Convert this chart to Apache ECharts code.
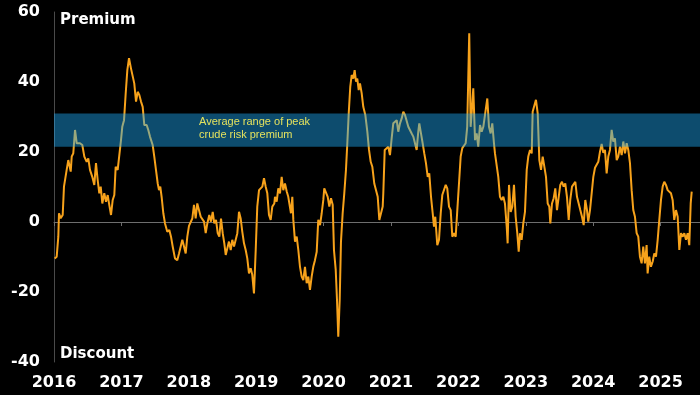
<!DOCTYPE html>
<html>
<head>
<meta charset="utf-8">
<script src="https://cdn.jsdelivr.net/npm/echarts@6/dist/echarts.min.js"></script>
<style>
html,body{margin:0;padding:0;background:#000;}
#chart{width:700px;height:395px;}
</style>
</head>
<body>
<div id="chart"></div>
<script>
// Decimal-year dates of each observation
const dates = [
2016.010,2016.040,2016.064,2016.074,2016.099,2016.129,2016.148,2016.188,2016.212,2016.248,
2016.263,2016.286,2016.312,2016.337,2016.386,2016.420,2016.450,2016.485,2016.509,2016.534,
2016.568,2016.598,2016.623,2016.648,2016.672,2016.693,2016.717,2016.746,2016.772,2016.797,
2016.820,2016.846,2016.871,2016.895,2016.915,2016.945,2016.969,2016.994,2017.013,2017.039,
2017.064,2017.088,2017.113,2017.142,2017.168,2017.191,2017.217,2017.242,2017.266,2017.291,
2017.316,2017.340,2017.375,2017.399,2017.424,2017.464,2017.488,2017.513,2017.539,2017.558,
2017.577,2017.598,2017.622,2017.647,2017.681,2017.711,2017.736,2017.761,2017.795,2017.829,
2017.855,2017.880,2017.904,2017.929,2017.954,2017.978,2018.003,2018.028,2018.052,2018.077,
2018.102,2018.126,2018.151,2018.177,2018.200,2018.226,2018.251,2018.275,2018.304,2018.329,
2018.355,2018.378,2018.404,2018.429,2018.453,2018.478,2018.503,2018.527,2018.548,2018.571,
2018.596,2018.622,2018.645,2018.671,2018.696,2018.720,2018.745,2018.770,2018.794,2018.819,
2018.844,2018.868,2018.893,2018.918,2018.942,2018.967,2018.993,2019.016,2019.042,2019.067,
2019.091,2019.116,2019.141,2019.165,2019.190,2019.215,2019.239,2019.269,2019.279,2019.304,
2019.328,2019.353,2019.378,2019.402,2019.427,2019.453,2019.476,2019.502,2019.516,2019.536,
2019.551,2019.576,2019.601,2019.625,2019.650,2019.675,2019.699,2019.724,2019.749,2019.773,
2019.798,2019.823,2019.847,2019.872,2019.898,2019.921,2019.947,2019.972,2019.996,2020.010,
2020.036,2020.061,2020.085,2020.110,2020.135,2020.154,2020.180,2020.199,2020.218,2020.239,
2020.258,2020.283,2020.307,2020.332,2020.352,2020.373,2020.396,2020.417,2020.441,2020.461,
2020.481,2020.500,2020.521,2020.540,2020.565,2020.589,2020.619,2020.649,2020.674,2020.699,
2020.723,2020.752,2020.778,2020.803,2020.827,2020.852,2020.877,2020.886,2020.907,2020.936,
2020.960,2020.985,2021.010,2021.034,2021.059,2021.085,2021.108,2021.134,2021.159,2021.183,
2021.208,2021.233,2021.257,2021.282,2021.307,2021.331,2021.356,2021.381,2021.405,2021.420,
2021.445,2021.470,2021.494,2021.519,2021.545,2021.568,2021.594,2021.619,2021.638,2021.657,
2021.687,2021.712,2021.738,2021.761,2021.786,2021.812,2021.835,2021.861,2021.886,2021.910,
2021.935,2021.960,2021.984,2022.009,2022.034,2022.058,2022.083,2022.108,2022.131,2022.161,
2022.182,2022.197,2022.221,2022.247,2022.271,2022.295,2022.321,2022.346,2022.370,2022.395,
2022.429,2022.454,2022.479,2022.503,2022.528,2022.543,2022.568,2022.592,2022.617,2022.642,
2022.667,2022.691,2022.717,2022.731,2022.751,2022.776,2022.800,2022.825,2022.850,2022.874,
2022.895,2022.914,2022.939,2022.963,2022.988,2023.014,2023.037,2023.063,2023.088,2023.102,
2023.126,2023.151,2023.177,2023.201,2023.226,2023.251,2023.275,2023.300,2023.325,2023.349,
2023.364,2023.389,2023.414,2023.438,2023.463,2023.488,2023.512,2023.537,2023.562,2023.586,
2023.611,2023.637,2023.660,2023.686,2023.711,2023.735,2023.760,2023.785,2023.809,2023.834,
2023.859,2023.883,2023.908,2023.927,2023.953,2023.978,2024.002,2024.027,2024.052,2024.076,
2024.101,2024.126,2024.150,2024.175,2024.200,2024.224,2024.249,2024.274,2024.298,2024.323,
2024.349,2024.372,2024.397,2024.423,2024.447,2024.472,2024.497,2024.521,2024.546,2024.571,
2024.595,2024.620,2024.645,2024.669,2024.694,2024.719,2024.743,2024.768,2024.793,2024.808,
2024.832,2024.857,2024.883,2024.907,2024.932,2024.957,2024.981,2025.006,2025.031,2025.055,
2025.080,2025.105,2025.129,2025.154,2025.179,2025.203,2025.228,2025.254,2025.278,2025.303,
2025.328,2025.352,2025.377,2025.402,2025.426,2025.447,2025.462
];
// Crude risk premium / discount values
const premium = [
-10.4,-9.9,-4.2,2.5,1.1,2.0,10.1,14.9,17.7,14.4,
18.7,19.6,26.3,22.5,22.5,22.0,18.7,17.2,18.2,14.9,
12.9,10.6,16.8,12.0,8.2,10.1,5.3,8.2,5.8,7.7,
4.9,2.0,6.3,7.7,15.8,14.9,14.9,23.4,27.2,29.1,
36.8,43.4,46.8,43.9,43.6,39.6,34.4,37.2,36.3,34.4,
32.9,27.7,27.7,26.3,24.4,22.0,18.7,14.9,11.0,9.1,
10.1,7.0,2.5,-0.4,-2.8,-2.3,-4.2,-7.0,-10.4,-10.9,
-9.0,-9.4,-5.1,-7.0,-9.0,-4.2,-1.1,-1.5,1.0,4.9,
1.0,5.3,3.4,1.5,2.0,0.1,-3.2,-0.4,2.0,0.1,
2.9,-0.4,0.6,-3.2,-4.2,1.0,-3.2,-6.1,-9.4,-9.0,
-5.6,-8.0,-5.1,-7.0,-7.5,-3.2,2.9,1.0,-2.8,-6.1,
-8.0,-10.4,-14.7,-13.2,-15.1,-20.4,-8.0,4.4,9.1,8.7,
10.1,12.5,10.1,8.2,2.0,0.6,4.4,5.3,7.2,5.8,
9.6,8.2,12.9,9.1,11.0,8.7,7.2,7.7,2.5,7.2,
0.6,-5.6,-4.2,-8.0,-12.8,-15.6,-16.6,-12.8,-17.5,-15.6,
-19.4,-15.6,-12.8,-10.9,-8.5,0.6,-0.9,2.5,6.3,9.6,
9.6,7.2,4.4,6.8,4.9,-8.0,-13.7,-22.3,-32.8,-22.3,
-5.6,2.5,8.2,14.9,22.5,31.0,38.7,42.0,41.0,43.4,
40.1,41.0,37.7,39.6,36.8,32.9,30.6,25.8,20.6,17.2,
15.8,11.0,9.1,7.2,0.6,0.1,4.4,8.2,20.6,21.1,
21.5,19.1,23.9,28.2,27.7,29.1,25.8,28.2,29.6,31.5,
30.6,30.1,27.2,27.7,25.3,24.4,24.9,20.6,25.8,28.2,
25.3,22.5,19.6,16.8,12.9,13.9,7.2,2.5,-1.3,1.5,
-6.6,-5.1,2.5,7.7,7.2,10.6,9.6,4.4,3.4,-4.2,
-3.2,-4.2,3.4,11.0,18.7,21.1,21.5,22.5,27.2,53.9,
27.2,31.0,38.2,23.4,25.3,21.5,27.7,25.8,27.2,30.6,
35.3,27.2,25.3,28.2,22.5,19.6,20.1,12.9,7.2,6.3,
7.2,5.3,-1.3,-6.1,10.6,2.9,4.4,10.6,1.5,-3.2,
-8.5,-3.2,-5.1,-0.4,2.9,14.9,18.7,20.6,19.6,31.5,
32.0,34.9,31.0,17.7,14.9,18.7,19.1,12.9,5.3,4.4,
-0.4,5.3,6.8,9.6,3.4,2.9,10.6,11.5,10.1,11.0,
7.2,0.6,6.3,10.1,10.1,11.5,7.2,7.2,3.4,1.5,
-0.9,6.3,3.4,0.1,3.4,2.9,12.9,15.5,16.0,17.2,
20.1,22.3,19.8,20.6,13.9,18.7,20.6,26.3,23.0,23.9,
17.7,18.7,21.5,19.1,23.0,19.6,22.5,20.6,16.8,9.1,
3.4,1.5,-3.2,-4.2,-9.9,-11.8,-7.0,-11.8,-6.6,-14.7,
-9.9,-12.8,-11.3,-9.0,-9.9,-5.1,0.6,6.3,10.1,11.5,
10.6,9.1,9.6,8.2,6.3,0.6,3.4,1.5,-8.0,-3.2,
-4.2,-3.2,-5.1,-3.2,-6.6,5.3,8.7
];
const yTicks = { min: -40, max: 60, step: 20 };
const xYears = { min: 2016, max: 2025.585, step: 1 };
const band = { low: 21.5, high: 31, label: 'Average range of peak\ncrude risk premium' };
const topLabel = 'Premium';
const bottomLabel = 'Discount';

const seriesData = dates.map((d, i) => [d, premium[i]]);
const fontFam = '"DejaVu Sans", Verdana, sans-serif';

const chart = echarts.init(document.getElementById('chart'));
chart.setOption({
  backgroundColor: '#000000',
  animation: false,
  grid: { left: 54, right: 0, top: 12, bottom: 33 },
  xAxis: [
    {
      type: 'value', min: xYears.min, max: xYears.max, interval: xYears.step,
      position: 'bottom',
      axisLine: { show: true, onZero: true, lineStyle: { color: '#6e6e6e', width: 1 } },
      axisTick: { show: true, length: 4, lineStyle: { color: '#6e6e6e' } },
      axisLabel: { show: false },
      splitLine: { show: false }
    },
    {
      type: 'value', min: xYears.min, max: xYears.max, interval: xYears.step,
      position: 'bottom',
      axisLine: { show: false, onZero: false },
      axisTick: { show: false },
      splitLine: { show: false },
      axisLabel: {
        show: true, color: '#ffffff', fontWeight: 'bold', fontSize: 16,
        fontFamily: fontFam, margin: 13, showMaxLabel: false,
        formatter: v => (Math.abs(v - Math.round(v)) < 1e-6 ? String(Math.round(v)) : '')
      }
    }
  ],
  yAxis: {
    type: 'value', min: yTicks.min, max: yTicks.max, interval: yTicks.step,
    axisLine: { show: true, onZero: false, lineStyle: { color: '#4a4a4a', width: 1 } },
    axisTick: { show: false },
    splitLine: { show: false },
    axisLabel: { color: '#ffffff', fontWeight: 'bold', fontSize: 16, fontFamily: fontFam, margin: 14 }
  },
  series: [
    {
      type: 'line', xAxisIndex: 0, data: seriesData, showSymbol: false, symbol: 'none',
      lineStyle: { color: '#F7A21B', width: 2 }, z: 2
    },
    {
      type: 'line', xAxisIndex: 0, data: [], z: 20,
      markArea: {
        silent: true, z: 20,
        itemStyle: { color: 'rgba(29,176,255,0.43)' },
        data: [[{ yAxis: band.low }, { yAxis: band.high }]]
      }
    }
  ],
  graphic: [
    { type: 'text', left: 199, top: 115, z: 30,
      style: { text: band.label, fill: '#e4e25e', font: '11px "Liberation Sans", Arial, sans-serif', lineHeight: 13 } },
    { type: 'text', left: 60, top: 13, z: 30,
      style: { text: topLabel, fill: '#ffffff', font: 'bold 15px ' + fontFam } },
    { type: 'text', left: 60, top: 347, z: 30,
      style: { text: bottomLabel, fill: '#ffffff', font: 'bold 15px ' + fontFam } }
  ]
});
</script>
</body>
</html>
